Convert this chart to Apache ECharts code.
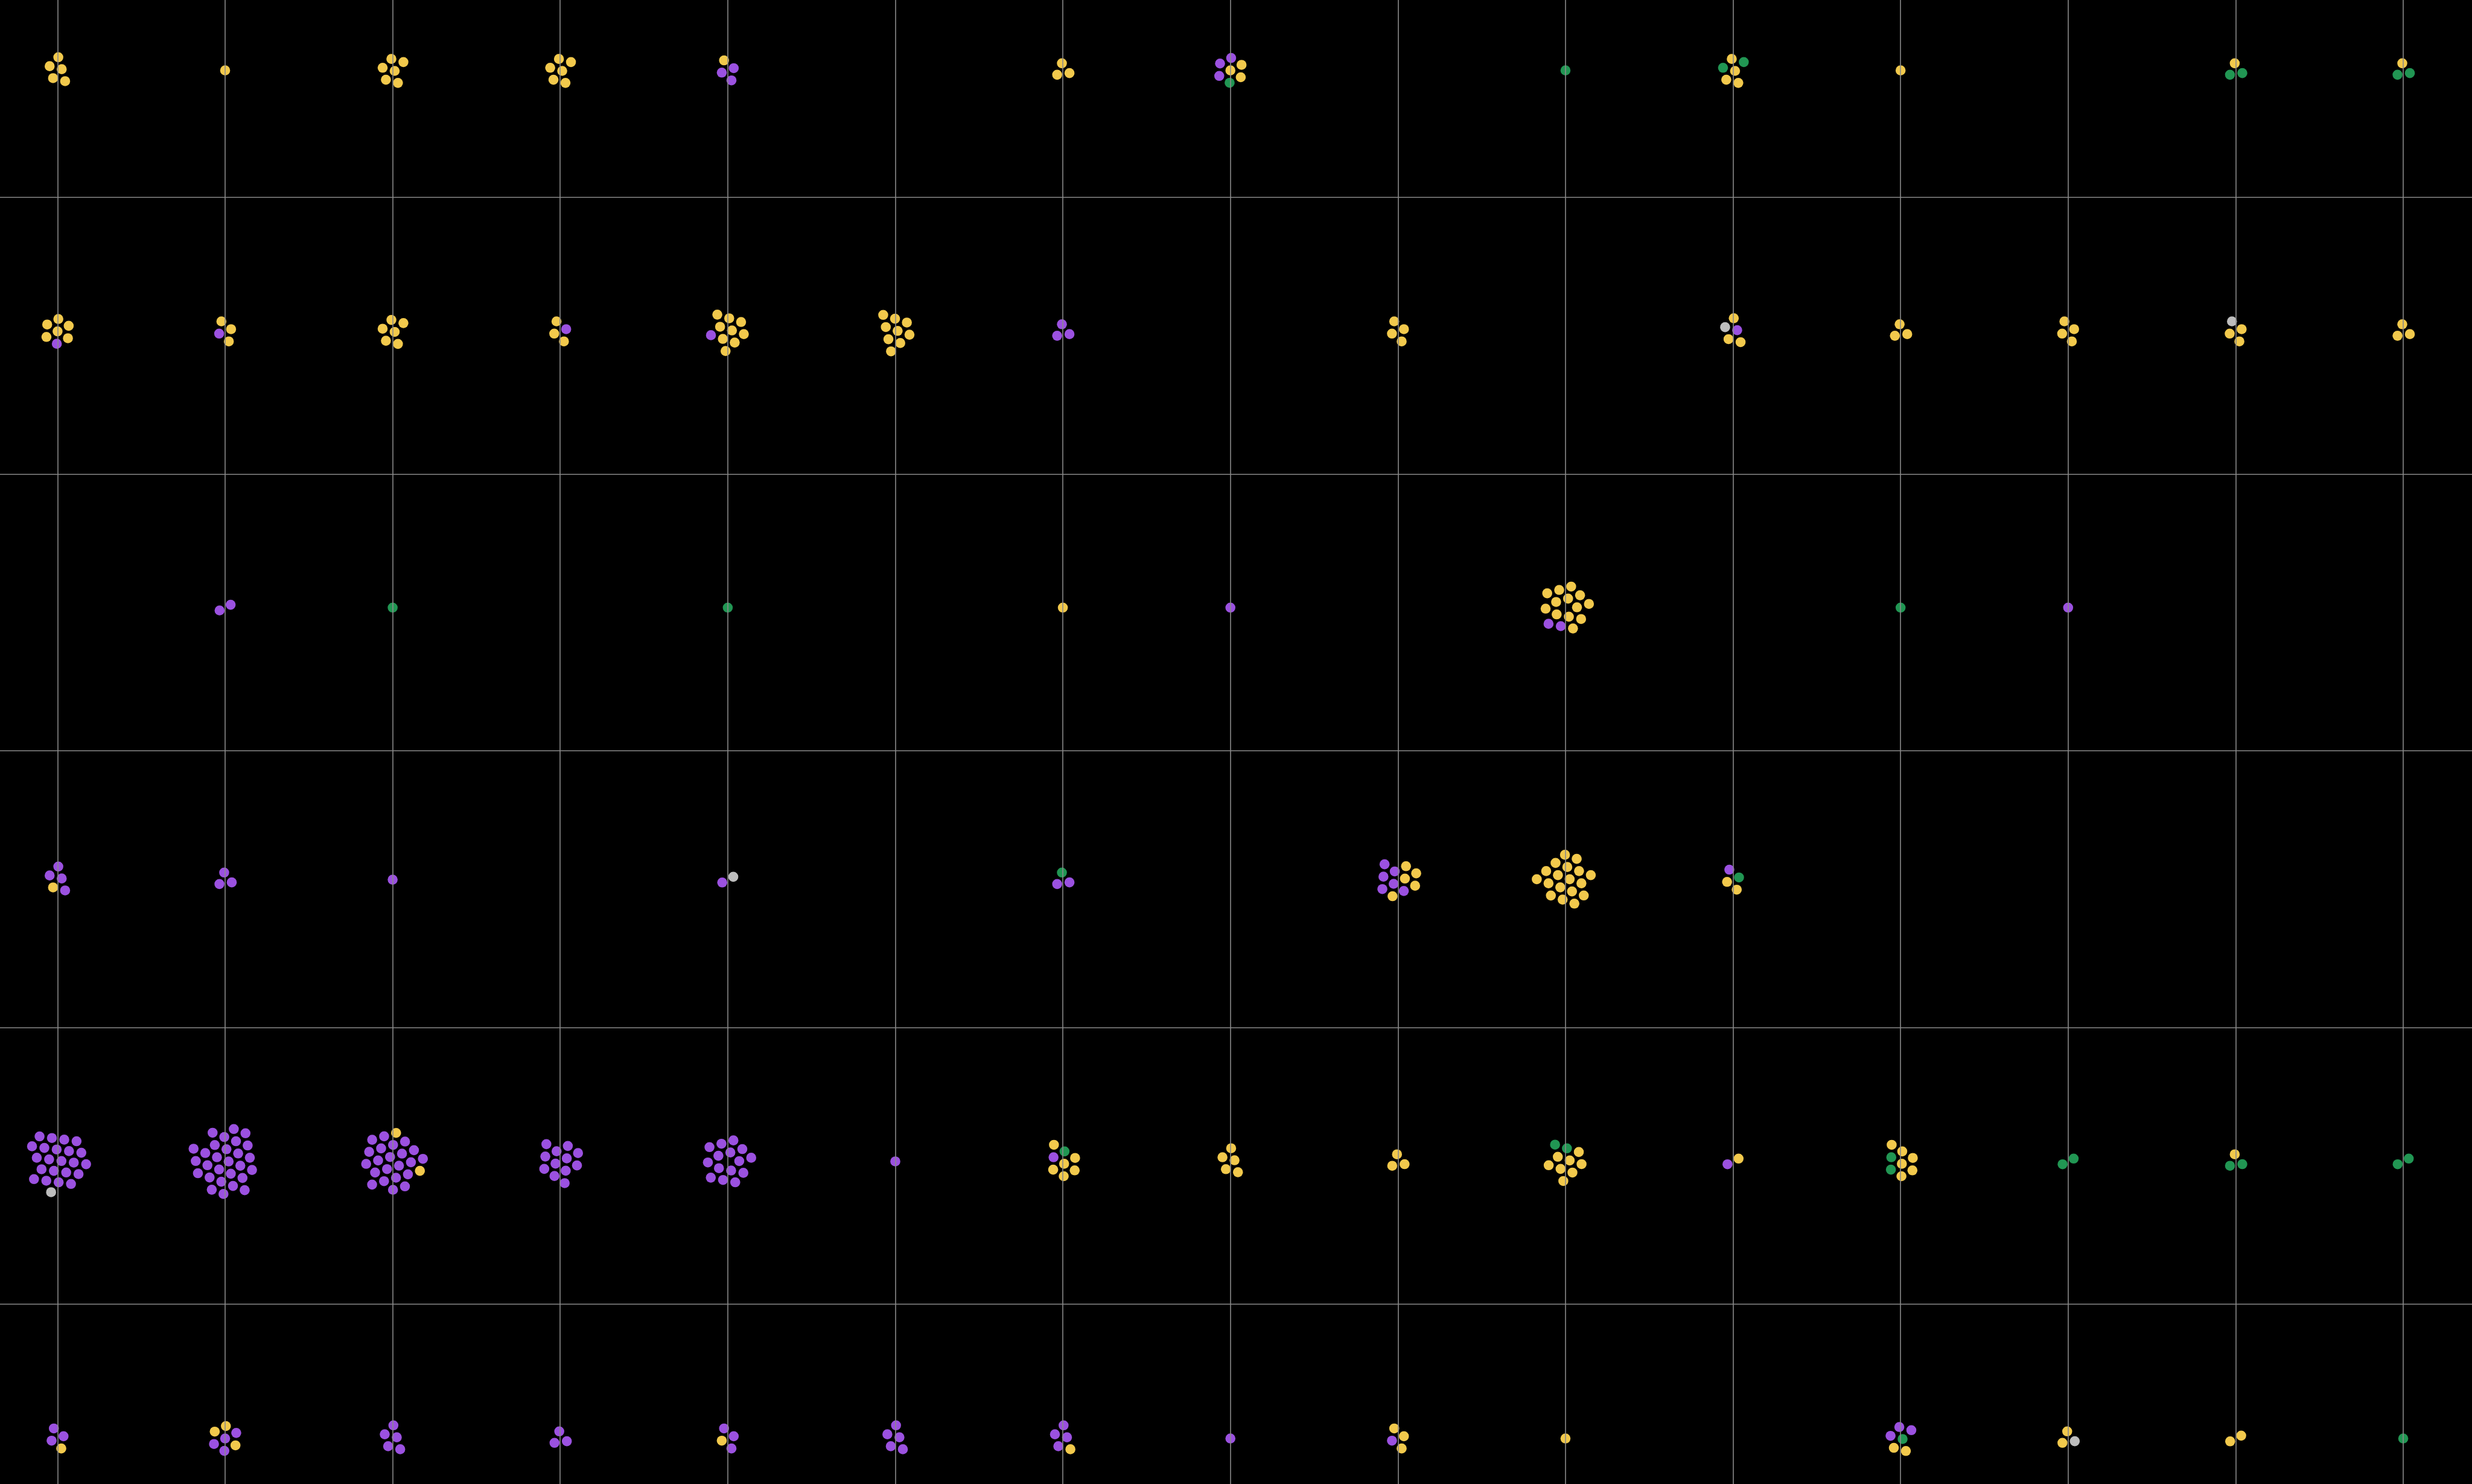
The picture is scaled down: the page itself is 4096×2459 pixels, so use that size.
<!DOCTYPE html>
<html>
<head>
<meta charset="utf-8">
<script src="https://cdn.jsdelivr.net/npm/echarts@6/dist/echarts.min.js"></script>
<style>
html,body{margin:0;padding:0;background:#000;overflow:hidden;}
#chart{width:4096px;height:2459px;}
</style>
</head>
<body>
<div id="chart"></div>
<script>
// ---- data ----
// column positions (value axis units) and row centres
const columnValues = [0, 1, 2, 3, 4, 5, 6, 7, 8, 9, 10, 11, 12, 13, 14];
const gridRowValues = [1, 2, 3, 4, 5];
const rowCenters = [0.542, 1.485, 2.483, 3.466, 4.484, 5.485];
const xRange = [-0.3436, 14.4105];
const yRange = [0.2877, 5.6495];

// each cell lists its dots by category: Y yellow, P purple, G green, A grey
const row1 = ["YYYYY", "Y", "YYYYYY", "YYYYYY", "PPYP", "", "YYY", "YPPYPYG", "", "G", "YYYYGG", "Y", "", "GGY", "GGY"];
const row2 = ["YYYYYYP", "YPYY", "YYYYYY", "PYYY", "YYYYY YYYYP", "YYYYY YYYY", "PPP", "", "YYYY", "", "PYYYA", "YYY", "YYYY", "YYAY", "YYY"];
const row3 = ["", "PP", "G", "", "G", "", "Y", "P", "", "YYYYY YPYYY YYYYP", "", "G", "P", "", ""];
const row4 = ["PYPPP", "PPP", "P", "", "AP", "", "PPG", "", "YPPPP YYPYP Y", "YYYYY YYYYY YYYYY YYY", "GYPY", "", "", "", ""];
const row5 = ["PPPPP PPPPP PPPPP PPPPA PPP", "PPPPP PPPPP PPPPP PPPPP PPPPP PPP", "PPPPP PPPPP PPPPP PPPPP PY PY", "PPPPP PPPPP PP", "PPPPP PPPPP PPPPP", "P", "YYGYPYYY", "YYYYY", "YYY", "YYGYY YYGYY", "YP", "YGYYG YYY", "GG", "GGY", "GG"];
const row6 = ["PPPY", "PPYYYPP", "PPPPP", "PPP", "PYPP", "PPPPP", "PPPYP", "P", "YPYY", "Y", "", "GYPYPP", "AYY", "YY", "G"];
const rows = [row1, row2, row3, row4, row5, row6];

const palette = { Y: '#F2C94C', P: '#9B51E0', G: '#219653', A: '#BDBDBD' };

// ---- chart ----
const chart = echarts.init(document.getElementById('chart'), null, { renderer: 'canvas' });

const baseOption = {
  backgroundColor: '#000000',
  animation: false,
  grid: { left: 0, right: 0, top: 0, bottom: 0, containLabel: false },
  xAxis: { type: 'value', min: xRange[0], max: xRange[1], show: false, splitLine: { show: false } },
  yAxis: { type: 'value', min: yRange[0], max: yRange[1], inverse: true, show: false, splitLine: { show: false } },
  series: [
    {
      type: 'scatter',
      name: 'grid',
      silent: true,
      symbolSize: 0,
      data: [[0, 1]],
      z: 1,
      markLine: {
        silent: true,
        symbol: ['none', 'none'],
        label: { show: false },
        emphasis: { disabled: true },
        lineStyle: { color: '#8a8a8a', width: 1.6, type: 'solid' },
        data: columnValues.map(v => ({ xAxis: v })).concat(gridRowValues.map(v => ({ yAxis: v })))
      }
    }
  ]
};
chart.setOption(baseOption);

// pixels per axis unit via the library's own scales
const pxX = chart.convertToPixel({ xAxisIndex: 0 }, 1) - chart.convertToPixel({ xAxisIndex: 0 }, 0);
const pxY = chart.convertToPixel({ yAxisIndex: 0 }, 2) - chart.convertToPixel({ yAxisIndex: 0 }, 1);

// force-style packing (phyllotaxis start, centre pull, collision), deterministic
function packCluster(n) {
  const nodes = [];
  const ang = Math.PI * (3 - Math.sqrt(5));
  for (let i = 0; i < n; i++) {
    const r = 10 * Math.sqrt(0.5 + i), a = i * ang;
    nodes.push({ x: r * Math.cos(a), y: r * Math.sin(a), vx: 0, vy: 0 });
  }
  let alpha = 1;
  const alphaDecay = 1 - Math.pow(0.001, 1 / 300);
  const vd = 0.6, R = 10.3, s = 0.1;
  for (let t = 0; t < 300; t++) {
    alpha += (0 - alpha) * alphaDecay;
    for (const nd of nodes) { nd.vx += -nd.x * s * alpha; nd.vy += -nd.y * s * alpha; }
    for (let i = 0; i < n; i++) {
      const a = nodes[i];
      const xi = a.x + a.vx, yi = a.y + a.vy;
      for (let j = i + 1; j < n; j++) {
        const b = nodes[j];
        let dx = xi - b.x - b.vx, dy = yi - b.y - b.vy;
        let l = dx * dx + dy * dy;
        const rr = 2 * R;
        if (l < rr * rr) {
          if (dx === 0) dx = 1e-6 * (j - i);
          l = Math.sqrt(dx * dx + dy * dy);
          const k = (rr - l) / l;
          dx *= k; dy *= k;
          a.vx += dx * 0.5; a.vy += dy * 0.5;
          b.vx -= dx * 0.5; b.vy -= dy * 0.5;
        }
      }
    }
    for (const nd of nodes) { nd.vx *= vd; nd.vy *= vd; nd.x += nd.vx; nd.y += nd.vy; }
  }
  let cx = 0, cy = 0;
  nodes.forEach(nd => { cx += nd.x; cy += nd.y; });
  cx /= Math.max(n, 1); cy /= Math.max(n, 1);
  nodes.forEach(nd => { nd.x -= cx; nd.y -= cy; });
  return nodes;
}

const dots = [];
rows.forEach((row, ri) => {
  row.forEach((cell, ci) => {
    const seq = cell.replace(/\s+/g, '');
    if (!seq.length) return;
    const nodes = packCluster(seq.length);
    for (let k = 0; k < seq.length; k++) {
      dots.push({
        value: [columnValues[ci] + nodes[k].x / pxX, rowCenters[ri] + nodes[k].y / pxY],
        itemStyle: { color: palette[seq[k]] }
      });
    }
  });
});

chart.setOption({
  series: [
    baseOption.series[0],
    {
      type: 'scatter',
      name: 'dots',
      z: 3,
      clip: false,
      symbol: 'circle',
      symbolSize: 16.6,
      silent: true,
      itemStyle: { opacity: 1, borderWidth: 0 },
      data: dots
    }
  ]
});
</script>
</body>
</html>
